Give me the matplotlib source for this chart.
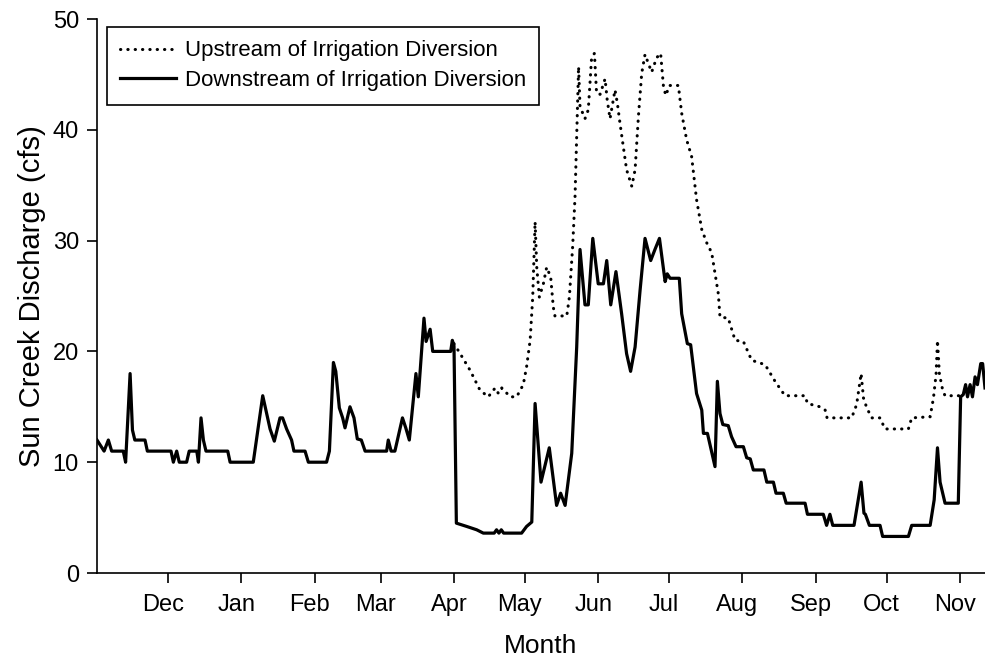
"""Sun Creek discharge above and below the irrigation diversion."""

import matplotlib

matplotlib.use("Agg")
import matplotlib.pyplot as plt
from matplotlib.transforms import ScaledTranslation


# day 0 = Nov 1 (cfs)
DOWN_DAYS = [
    0, 3, 4.8, 6.2, 11.1, 12.1, 14, 15, 16, 20.3, 21.3, 31.3, 32.3, 33.7, 34.8,
    37.9, 39, 42.2, 42.9, 44, 45, 46.1, 55.3, 56.3, 66.1, 70.1, 73.2, 75, 77.4,
    78.5, 80.2, 82.3, 83.3, 88, 89.4, 97.1, 98.3, 100, 101, 102.5, 103.9, 104.9,
    107, 108.7, 110.1, 111.8, 113.4, 122.5, 123.2, 124.4, 126, 129.2, 130.6,
    132.1, 134.9, 135.9, 138.3, 139.2, 140.9, 142, 149.6, 150.3, 151, 152,
    156.4, 160.6, 163.4, 168, 169, 170, 171, 172, 179.6, 181.7, 183.9, 185.3,
    187.8, 191.3, 194.4, 196.1, 198, 200.8, 202.9, 204.3, 206.4, 207.8, 209.7,
    212, 214.2, 215.6, 217.3, 219.5, 221.9, 224, 225.7, 227.6, 229.7, 231.8,
    234.2, 236, 237.9, 240.3, 241.2, 242.4, 246.3, 247.3, 249.7, 251.1, 253.6,
    255.8, 256.5, 258.2, 261.4, 262.4, 263.5, 264.7, 267, 268.4, 270.3, 273.4,
    274.8, 276.3, 277.6, 282.1, 283.3, 286.1, 287.2, 290.3, 291.5, 299.5, 300.5,
    307.2, 308.6, 310, 311.2, 320.2, 323.2, 324.4, 325, 326.7, 331.2, 332.3,
    343.2, 344.6, 352.4, 354.1, 355.5, 356.6, 358.7, 364.3, 365.3, 366.4, 367.4,
    368.2, 369.3, 370.3, 371.4, 372.4, 373.8, 374.6, 375.6,
]
DOWN_CFS = [
    12, 11, 12, 11, 11, 10, 18, 12.9, 12, 12, 11, 11, 10, 11, 10,
    10, 11, 11, 10, 14, 12, 11, 11, 10, 10, 16, 13, 11.9, 14,
    14, 13, 12, 11, 11, 10, 10, 11, 19, 18.2, 14.9, 14, 13.1,
    15, 14, 12.1, 12, 11, 11, 12, 11, 11, 14, 13.1,
    12, 18, 15.9, 23, 20.9, 22, 20, 20, 21, 20.5, 4.5,
    4.2, 3.9, 3.6, 3.6, 3.9, 3.6, 3.9, 3.6, 3.6, 4.2, 4.6, 15.3,
    8.2, 11.3, 6.1, 7.2, 6.1, 10.8, 20.4, 29.2, 24.2, 24.2, 30.2,
    26.1, 26.1, 28.2, 24.2, 27.2, 23.4, 19.8, 18.2, 20.4, 25.5, 30.2,
    28.2, 29.2, 30.2, 26.3, 27, 26.6, 26.6, 23.4, 20.7, 20.6, 16.2,
    14.7, 12.6, 12.6, 9.6, 17.3, 14.4, 13.4, 13.3, 12.3, 11.4, 11.4,
    10.4, 10.3, 9.3, 9.3, 8.2, 8.2, 7.2, 7.2, 6.3, 6.3, 5.3,
    5.3, 4.3, 5.3, 4.3, 4.3, 8.2, 5.4, 5.3, 4.3, 4.3, 3.3,
    3.3, 4.3, 4.3, 6.6, 11.3, 8.2, 6.3, 6.3, 15.9, 16.1, 17,
    15.9, 17, 15.9, 17.7, 17, 18.9, 18.9, 16.7,
]

UP_DAYS = [
    151, 153.6, 157.8, 162, 165.5, 168.4, 169.8, 171.2, 172.6, 174.7, 177.5,
    180.3, 181.7, 183.2, 184.3, 185.3, 186, 187.1, 188.8, 190.2, 191.9, 193,
    193.7, 198.7, 199.8, 201.2, 202.2, 203.7, 204.3, 206.4, 207.8, 209.2, 210.4,
    211.3, 212.8, 214.9, 215.8, 217, 219.1, 220.1, 221.2, 222.6, 224, 226.2,
    227.6, 229, 230.4, 231.8, 234.6, 236.7, 238.4, 239.6, 240.6, 242.1, 245.9,
    247.3, 249.4, 251.5, 253.6, 255.8, 257.9, 260, 262.8, 263.5, 267, 269.9,
    273.4, 276.9, 282.6, 286.8, 291, 299.5, 300.5, 305.8, 308, 308.8, 319.2,
    321.3, 323.2, 324.2, 325.6, 327.7, 331.2, 333.3, 343.2, 344.6, 352.4, 353.8,
    354.9, 355.5, 356.3, 357.7, 358.7, 365,
]
UP_CFS = [
    20.7, 19.8, 18.3, 16.5, 15.9, 16.7, 16.2, 16.7, 16.4, 15.9, 15.9,
    17, 18.6, 21, 24.9, 31.7, 27.6, 24.9, 26.1, 27.6, 26.7, 24,
    23.2, 23.2, 24.9, 29.5, 34, 45.7, 42.1, 41, 41.8, 46.5, 46.9,
    43.3, 43.2, 44.6, 42.7, 41, 43.6, 42.4, 40.6, 38.5, 36.4, 34.9,
    36.4, 41.2, 45.1, 46.8, 45.2, 46.5, 46.9, 43.9, 43.1, 44, 44,
    41.5, 39.1, 37.6, 33.7, 31, 29.8, 28.9, 25.2, 23.1, 23, 21,
    20.9, 19.2, 18.8, 17.3, 16, 16, 15.3, 15, 14.7, 14, 14,
    15.2, 18, 15.8, 14.9, 14, 14, 13, 13, 14, 14.1, 15.8,
    17.9, 21, 18, 16.5, 16, 16,
]

MONTH_STARTS = [30, 61, 92, 120, 151, 181, 212, 242, 273, 304, 334, 365]
MONTH_LABELS = ["Dec", "Jan", "Feb", "Mar", "Apr", "May", "Jun", "Jul", "Aug",
                "Sep", "Oct", "Nov"]

plt.rcParams["font.family"] = ["Liberation Sans", "DejaVu Sans"]


def plot_discharge():
    fig = plt.figure(figsize=(9.85, 6.58), dpi=100)
    ax = fig.add_axes([97 / 985, 85 / 658, 888 / 985, 554 / 658])

    ax.plot(UP_DAYS, UP_CFS, color="black", linewidth=2.2,
            linestyle=(0, (0.1, 2.3)), dash_capstyle="round",
            label="Upstream of Irrigation Diversion")
    ax.plot(DOWN_DAYS, DOWN_CFS, color="black", linewidth=2.3,
            solid_joinstyle="round", label="Downstream of Irrigation Diversion")

    ax.set_xlim(0, 375.6)
    ax.set_ylim(0, 50)
    ax.set_yticks(range(0, 51, 10))
    ax.set_xticks(MONTH_STARTS, MONTH_LABELS)
    ax.tick_params(direction="out", length=7, width=1.2, labelsize=17, pad=6)
    ax.tick_params(axis="x", pad=8)
    offset = ScaledTranslation(-0.05, 0, fig.dpi_scale_trans)
    for label in ax.get_xticklabels():
        label.set_transform(label.get_transform() + offset)

    for side in ("top", "right"):
        ax.spines[side].set_visible(False)
    for side in ("left", "bottom"):
        ax.spines[side].set_linewidth(1.2)

    ax.set_xlabel("Month", fontsize=19, labelpad=13)
    ax.set_ylabel("Sun Creek Discharge (cfs)", fontsize=21, labelpad=5)

    leg = ax.legend(loc="upper left", bbox_to_anchor=(10 / 888, 546 / 554),
                    borderaxespad=0, fontsize=16, handlelength=2.5,
                    handletextpad=0.4, fancybox=False, framealpha=1,
                    edgecolor="black", borderpad=0.6, labelspacing=0.4)
    leg.get_frame().set_linewidth(1.2)
    return fig


def main():
    fig = plot_discharge()
    fig.savefig("out.png", dpi=100)


if __name__ == "__main__":
    main()
